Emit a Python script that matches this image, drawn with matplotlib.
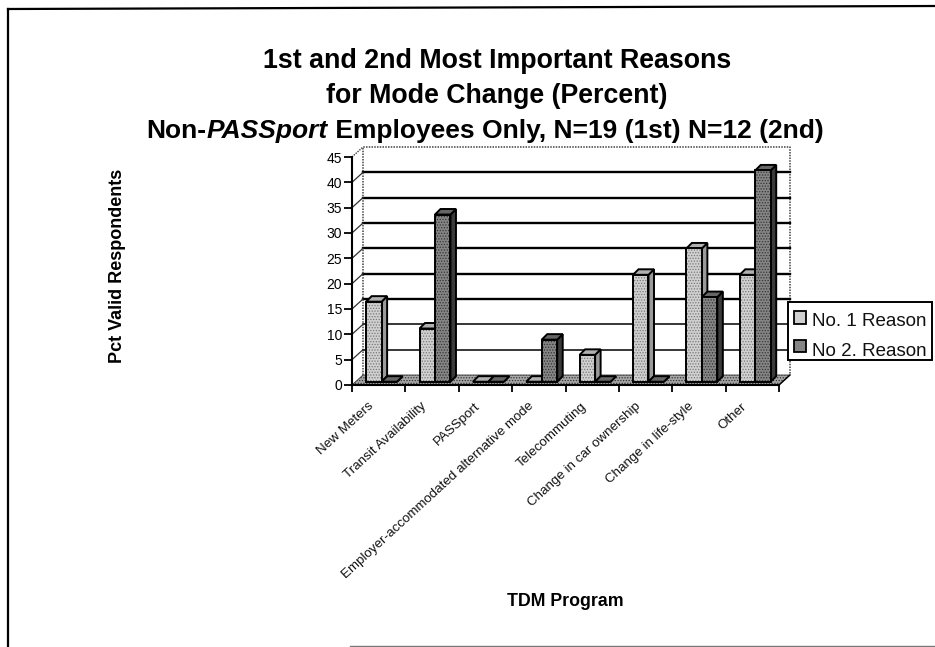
import matplotlib
matplotlib.use("Agg")
import matplotlib.pyplot as plt
from matplotlib.patches import Polygon, Rectangle

plt.rcParams['font.family'] = ['Liberation Sans', 'DejaVu Sans']
plt.rcParams['hatch.linewidth'] = 0.6

categories = ["New Meters", "Transit Availability", "PASSport",
              "Employer-accommodated alternative mode", "Telecommuting",
              "Change in car ownership", "Change in life-style", "Other"]
reason1 = [15.8, 10.5, 0, 0, 5.3, 21.1, 26.3, 21.1]
reason2 = [0, 33.0, 0, 8.3, 0, 0, 16.7, 41.7]
series_names = ["No. 1 Reason", "No 2. Reason"]
y_ticks = [0, 5, 10, 15, 20, 25, 30, 35, 40, 45]

W, H = 935, 647
fig = plt.figure(figsize=(W / 100, H / 100), dpi=100, facecolor='white')
L, R, T, B = 352, 779, 157, 385
ax = fig.add_axes([L / W, 1 - B / H, (R - L) / W, (B - T) / H])
ax.set_xlim(0, len(categories))
ax.set_ylim(0, 45)
ax.patch.set_visible(False)
for s in ['top', 'right']:
    ax.spines[s].set_visible(False)
for s in ['left', 'bottom']:
    ax.spines[s].set_linewidth(1.5)
ax.set_xticks(range(len(categories) + 1))
ax.set_xticklabels([])
ax.set_yticks(y_ticks)
ax.tick_params(axis='y', labelsize=10, length=6, width=1.3, pad=1)
ax.tick_params(axis='x', length=5, width=1.3)

# 3-D depth of the box, in data units
DX, DY = 11 / 53.4, 10 / (228 / 45)
n = len(categories)
kw = dict(clip_on=False)

# floor
ax.add_patch(Polygon([(0, 0), (n, 0), (n + DX, DY), (DX, DY)], closed=True,
                     facecolor='#a6a6a6', edgecolor='#333333', lw=0.6, zorder=1,
                     hatch='......', **kw))
# back wall and side wall outline (dotted)
ax.plot([DX, DX, n + DX, n + DX], [DY, 45 + DY, 45 + DY, DY], color='#444444',
        lw=1.1, ls=(0, (1, 0.8)), zorder=1, **kw)
ax.plot([0, DX], [45, 45 + DY], color='#444444', lw=1.0, ls=(0, (1, 0.8)), zorder=1, **kw)
ax.plot([n, n + DX], [0, DY], color='black', lw=1.0, zorder=1, **kw)
# gridlines on the back wall with their return along the side wall
for v in y_ticks[1:-1]:
    ax.plot([DX, n + DX], [v + DY, v + DY], color='black',
            lw=1.7 if v >= 15 else 1.1, zorder=2, **kw)
    ax.plot([0, DX], [v, v + DY], color='#333333', lw=0.9, zorder=2, **kw)

# bars
BW = 0.29
OFF = 0.265
FY = 0.33 * DY                         # height of bar fronts on the floor
BDX, BDY = 0.5 * DX, 0.55 * DY         # bar depth
styles = [dict(front='#d0d0d0', top='#b0b0b0', side='#9a9a9a', h='#777777'),
          dict(front='#858585', top='#666666', side='#3a3a3a', h='#333333')]


def bar3d(x0, h, st, z):
    x1 = x0 + BW
    y0 = FY
    y1 = FY + h
    e = dict(edgecolor='black', lw=1.4, zorder=z, joinstyle='miter', **kw)
    ax.add_patch(Polygon([(x1, y0), (x1 + BDX, y0 + BDY), (x1 + BDX, y1 + BDY), (x1, y1)],
                         closed=True, facecolor=st['side'], **e))
    ax.add_patch(Polygon([(x0, y1), (x1, y1), (x1 + BDX, y1 + BDY), (x0 + BDX, y1 + BDY)],
                         closed=True, facecolor=st['top'], **e))
    ax.add_patch(Rectangle((x0, y0), BW, h, facecolor=st['front'], edgecolor=st['h'],
                           hatch='......', lw=0, zorder=z, **kw))
    ax.add_patch(Rectangle((x0, y0), BW, h, facecolor='none', **e))


for i in range(n):
    bar3d(i + OFF, reason1[i], styles[0], 5 + i * 2)
    bar3d(i + OFF + BW, reason2[i], styles[1], 6 + i * 2)

# category labels
for i, c in enumerate(categories):
    ax.annotate(c, xy=(i + 0.5, 0), xytext=(-8, -11), textcoords='offset points',
                rotation=42.5, rotation_mode='anchor', ha='right', va='top',
                fontsize=9.6, color='#111111', annotation_clip=False)

# axis titles
fig.text(118 / W, 1 - 265.5 / H, "Pct Valid Respondents", rotation=90, ha='center',
         va='center', fontsize=13, fontweight='bold')
fig.text(565 / W, 1 - 601 / H, "TDM Program", ha='center', va='center',
         fontsize=12.8, fontweight='bold')

# title
TS = 19
fig.text(497 / W, 1 - 61 / H, "1st and 2nd Most Important Reasons", ha='center',
         va='center', fontsize=19.3, fontweight='bold')
fig.text(497 / W, 1 - 96 / H, "for Mode Change (Percent)", ha='center',
         va='center', fontsize=19.3, fontweight='bold')
parts = [("Non-", 'normal'), ("PASSport", 'italic'),
         (" Employees Only, N=19 (1st) N=12 (2nd)", 'normal')]
r = fig.canvas.get_renderer()
objs = [fig.text(0, 1 - 131 / H, p, fontsize=TS, fontweight='bold', style=s, va='center')
        for p, s in parts]
widths = [o.get_window_extent(r).width for o in objs]
x = 485 - sum(widths) / 2
for o, w in zip(objs, widths):
    o.set_x(x / W)
    x += w

# legend box
fig.add_artist(Rectangle((788 / W, 1 - 360 / H), 144 / W, 58 / H, transform=fig.transFigure,
                         facecolor='white', edgecolor='black', lw=1.4, zorder=20))
for name, st, yc, ys in zip(series_names, styles, [322, 351.5], [317.5, 345.5]):
    fig.add_artist(Rectangle((794 / W, 1 - (ys + 6) / H), 12 / W, 12 / H, transform=fig.transFigure,
                             facecolor=st['front'], edgecolor='black', lw=1.3, zorder=21))
    fig.text(811.5 / W, 1 - yc / H, name, ha='left', va='center', fontsize=13.5, zorder=21,
             color='#111111')

# outer frame of the scanned page
fig.add_artist(plt.Line2D([8 / W, 8 / W], [0, 1 - 9 / H], color='black', lw=1.6))
fig.add_artist(plt.Line2D([8 / W, 1], [1 - 9 / H, 1 - 6 / H], color='black', lw=1.6))
fig.add_artist(plt.Line2D([350 / W, 1], [1 - 645.5 / H, 1 - 645.5 / H], color='#777777', lw=1.0))

fig.savefig("out.png", dpi=100)
